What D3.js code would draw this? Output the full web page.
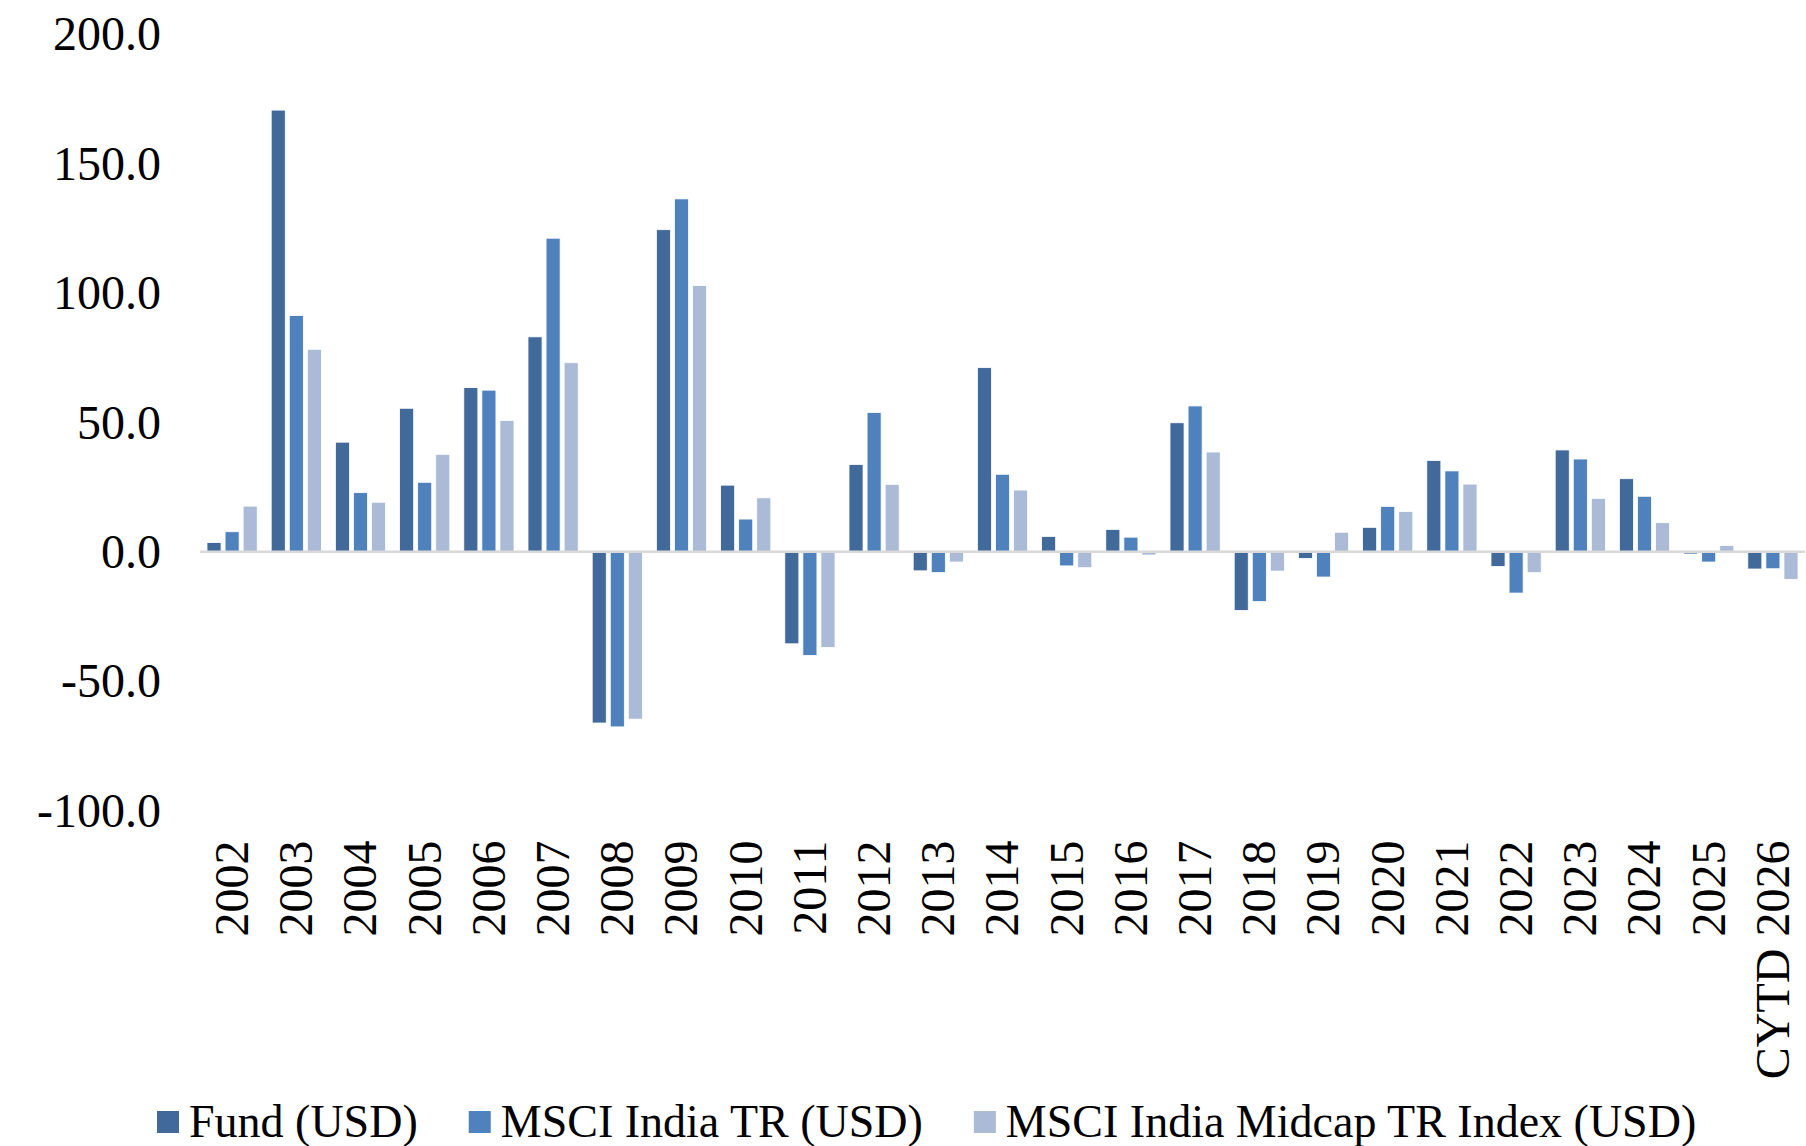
<!DOCTYPE html>
<html>
<head>
<meta charset="utf-8">
<script src="https://cdn.jsdelivr.net/npm/d3@7"></script>
<style>
  html, body { margin: 0; padding: 0; background: #fff; }
  svg { display: block; }
  text { font-family: "Liberation Serif", "Times New Roman", serif; fill: #000; }
</style>
</head>
<body>
<div id="root"></div>
<script>
// categories and series (%)
const years = ['2002','2003','2004','2005','2006','2007','2008','2009','2010','2011','2012','2013',
               '2014','2015','2016','2017','2018','2019','2020','2021','2022','2023','2024','2025','CYTD 2026'];
const fund = [3.5, 170.6, 42.3, 55.4, 63.4, 83.0, -66.2, 124.4, 25.7, -35.6, 33.7, -7.4,
              71.1, 5.9, 8.6, 49.8, -22.7, -2.6, 9.4, 35.2, -5.7, 39.3, 28.2, -0.9, -6.7];
const msci = [7.7, 91.2, 22.8, 26.8, 62.4, 121.1, -67.7, 136.3, 12.6, -40.1, 53.8, -8.1,
              29.9, -5.5, 5.6, 56.3, -19.3, -9.8, 17.5, 31.2, -16.0, 35.8, 21.4, -4.0, -6.6];
const midcap = [17.6, 78.2, 19.1, 37.6, 50.7, 73.0, -64.7, 102.8, 20.8, -37.0, 26.0, -4.0,
                23.8, -6.2, -1.3, 38.5, -7.5, 7.5, 15.5, 26.1, -8.1, 20.6, 11.2, 2.4, -10.7];
const seriesNames = ['Fund (USD)', 'MSCI India TR (USD)', 'MSCI India Midcap TR Index (USD)'];
const seriesColors = ['#416a9b', '#4f81bd', '#aabad7'];
const yTicks = [-100, -50, 0, 50, 100, 150, 200];

const W = 1806, H = 1146;
const svg = d3.select('#root').append('svg').attr('width', W).attr('height', H);

const series = [fund, msci, midcap];
const rows = years.map((y, i) => ({year: y, vals: series.map(s => s[i])}));

// scales
const x0 = d3.scaleBand().domain(years).range([200, 1805]).paddingInner(0.218).paddingOuter(0.109);
const x1 = d3.scaleBand().domain([0, 1, 2]).range([0, x0.bandwidth()]).paddingInner(0.222);
const y = d3.scaleLinear().domain([-100, 200]).range([810.5, 34]);

// y axis (labels only) - plain hyphen for negatives like the original
const yAxis = d3.axisLeft(y).tickValues(yTicks).tickFormat(d => d.toFixed(1)).tickSize(0).tickPadding(0);
svg.append('g')
   .attr('transform', 'translate(161,0)')
   .call(yAxis)
   .call(g => g.select('.domain').remove())
   .selectAll('text')
   .attr('font-family', '"Liberation Serif", serif')
   .attr('font-size', 48)
   .attr('dy', '0.33em')
   .attr('fill', '#000');

// bars
const groups = svg.append('g').selectAll('g')
   .data(rows)
   .enter()
   .append('g')
   .attr('transform', d => `translate(${x0(d.year)},0)`);

groups.selectAll('rect')
   .data(d => d.vals.map((v, k) => ({k: k, v: v})))
   .enter()
   .append('rect')
   .attr('x', d => x1(d.k))
   .attr('y', d => y(Math.max(0, d.v)))
   .attr('width', x1.bandwidth())
   .attr('height', d => Math.abs(y(d.v) - y(0)))
   .attr('fill', d => seriesColors[d.k])
   .attr('stroke', '#fff')
   .attr('stroke-width', 0.8);

// zero line
svg.append('line')
   .attr('x1', 200).attr('x2', 1805)
   .attr('y1', y(0)).attr('y2', y(0))
   .attr('stroke', '#d9d9d9')
   .attr('stroke-width', 2.5);

// category labels, rotated, hanging below the plot
const labelTop = y(-100) + 30;
svg.append('g').selectAll('text')
   .data(years)
   .enter()
   .append('text')
   .attr('transform', d => `translate(${x0(d) + x0.bandwidth() / 2},${labelTop}) rotate(-90)`)
   .attr('text-anchor', 'end')
   .attr('dy', '0.33em')
   .attr('font-size', 48)
   .text(d => d);

// legend
const legend = svg.append('g');
let lx = 157;
seriesNames.forEach((name, k) => {
    legend.append('rect')
        .attr('x', lx).attr('y', 1111)
        .attr('width', 22).attr('height', 22)
        .attr('fill', seriesColors[k]);
    const t = legend.append('text')
        .attr('x', lx + 32).attr('y', 1137)
        .attr('font-size', 46)
        .text(name);
    lx = lx + 32 + t.node().getComputedTextLength() + 51;
});
</script>
</body>
</html>
